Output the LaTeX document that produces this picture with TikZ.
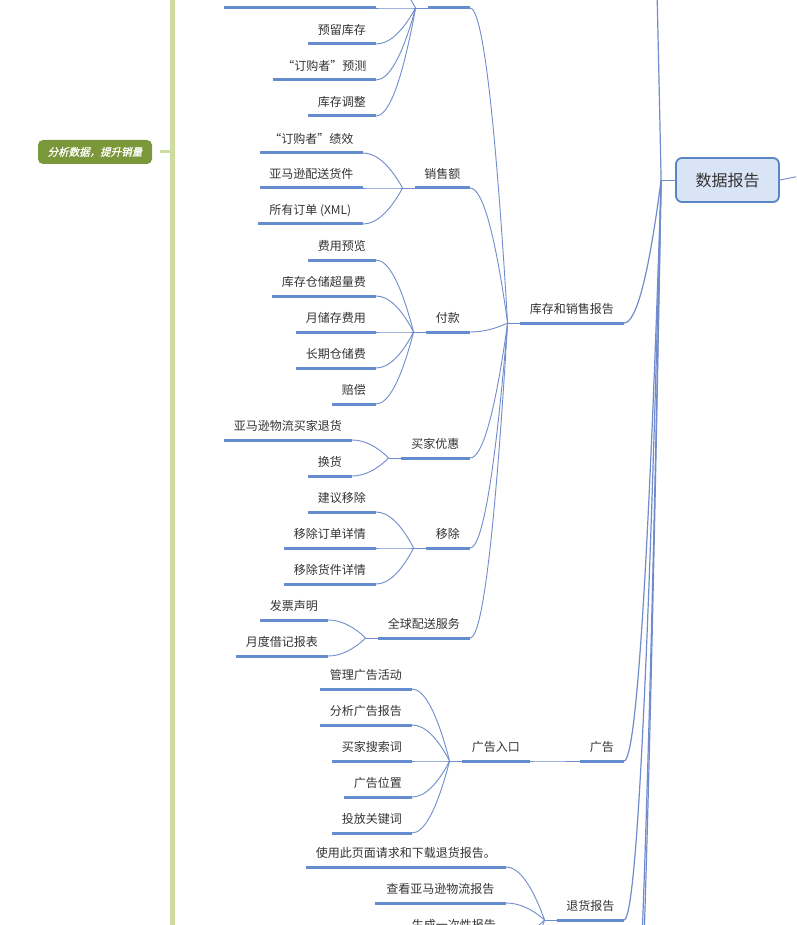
\documentclass[tikz,border=0pt]{standalone}
\usepackage{fontspec}
\setmainfont{Noto Sans CJK SC}
\newfontfamily\greenfont[FakeSlant=0.22,FakeBold=1.2]{Noto Sans CJK SC}
\usetikzlibrary{calc}
\definecolor{ul}{RGB}{100,140,206}
\definecolor{ln}{RGB}{112,140,204}
\definecolor{txt}{RGB}{51,51,51}
\definecolor{gline}{RGB}{206,220,160}
\definecolor{gbox}{RGB}{122,152,58}
\definecolor{dfill}{RGB}{217,229,246}
\definecolor{dborder}{RGB}{91,132,200}
\tikzset{
  topic/.style={anchor=south east, minimum height=27pt, inner sep=0pt, text=txt, font=\fontsize{12}{14}\selectfont},
  uline/.style={draw=ul, line width=3pt},
  link/.style={draw=ln, line width=0.9pt},
  mainlink/.style={draw=ln, line width=1.2pt},
  gnode/.style={fill=gbox, rounded corners=5pt, minimum width=114pt, minimum height=24pt, inner sep=0pt, text=white, font=\greenfont\fontsize{10.5}{12}\selectfont},
  dnode/.style={draw=dborder, line width=1.8pt, fill=dfill, rounded corners=6pt, minimum width=103pt, minimum height=44pt, inner sep=0pt, text=txt, font=\fontsize{16}{18}\selectfont},
}
\newcommand\ulof[1]{\draw[uline] (#1.south west) -- (#1.south east);}
\newcommand\joinof[1]{\coordinate (#1j) at ([xshift=-12pt]#1.south west); \draw[link] (#1j) -- (#1.south west);}
\newcommand\conn[3][link]{\draw[#1] let \p1=(#2), \p2=(#3) in (\p1) .. controls ({\x1+(\x2-\x1)/3},\y1) and ({\x2-(\x2-\x1)/3},{\y2+2*(\y1-\y2)/3}) .. (\p2);}
\newcommand\connall[2]{\foreach \nn in {#1} {\edef\mytmpc{\noexpand\conn{\nn.south east}{#2}}\mytmpc}}
\begin{document}
\begin{tikzpicture}[x=1pt,y=-1pt]
\useasboundingbox (0,0) rectangle (796,925);
\clip (0,0) rectangle (796,925);
\fill[white] (0,0) rectangle (796,925);
% green branch
\coordinate (gtop) at (172.5,-5);
\coordinate (gbot) at (172.5,930);
\draw[gline, line width=5pt] (gtop) -- (gbot);
\node[gnode] (green) at (95,152) {分析数据，提升销量};
\coordinate (gstub) at (172.5,152);
\draw[gline, line width=3pt] ([xshift=8pt]green.east) -- (gstub);
% central node
\node[dnode] (D) at (727.5,180) {数据报告};
\coordinate (Dj) at ([xshift=-14pt]D.west);
\coordinate (Dout) at (800,176);
\draw[link] (Dj) -- (D.west);
\draw[link] (D.east) -- (Dout);
% level 1
\node[topic, minimum width=104pt] (K) at (624,323) {库存和销售报告};
\node[topic, minimum width=44pt] (A) at (624,761) {广告};
\node[topic, minimum width=67pt] (Q) at (624,920) {退货报告};
\coordinate (Dc1) at (624,-724);
\coordinate (Dc2) at (624,1173);
\coordinate (Dc3) at (624,1252);
% level 2 under K
\node[topic, minimum width=42pt] (T) at (470,8) {};
\node[topic, minimum width=55pt] (S) at (470,188) {销售额};
\node[topic, minimum width=44pt] (P) at (470,332) {付款};
\node[topic, minimum width=69pt] (B) at (470,458) {买家优惠};
\node[topic, minimum width=44pt] (R) at (470,548) {移除};
\node[topic, minimum width=92pt] (G) at (470,638) {全球配送服务};
% top group
\coordinate (tup) at (376,-28);
\node[topic, minimum width=152pt] (t0) at (376,8) {};
\node[topic, minimum width=68pt] (t1) at (376,44) {预留库存};
\node[topic, minimum width=103pt] (t2) at (376,80) {“订购者”预测};
\node[topic, minimum width=68pt] (t3) at (376,116) {库存调整};
% sales
\node[topic, minimum width=103pt] (s1) at (363,153) {“订购者”绩效};
\node[topic, minimum width=103pt] (s2) at (363,188) {亚马逊配送货件};
\node[topic, minimum width=105pt] (s3) at (363,224) {所有订单 (XML)};
% payments
\node[topic, minimum width=68pt] (p1) at (376,260) {费用预览};
\node[topic, minimum width=104pt] (p2) at (376,296) {库存仓储超量费};
\node[topic, minimum width=80pt] (p3) at (376,332) {月储存费用};
\node[topic, minimum width=80pt] (p4) at (376,368) {长期仓储费};
\node[topic, minimum width=44pt] (p5) at (376,404) {赔偿};
% buyer
\node[topic, minimum width=128pt] (b1) at (352,440) {亚马逊物流买家退货};
\node[topic, minimum width=44pt] (b2) at (352,476) {换货};
% removal
\node[topic, minimum width=68pt] (r1) at (376,512) {建议移除};
\node[topic, minimum width=92pt] (r2) at (376,548) {移除订单详情};
\node[topic, minimum width=92pt] (r3) at (376,584) {移除货件详情};
% global
\node[topic, minimum width=68pt] (g1) at (328,620) {发票声明};
\node[topic, minimum width=92pt] (g2) at (328,656) {月度借记报表};
% ads
\node[topic, minimum width=68pt] (AI) at (530,761) {广告入口};
\node[topic, minimum width=92pt] (a1) at (412,689) {管理广告活动};
\node[topic, minimum width=92pt] (a2) at (412,725) {分析广告报告};
\node[topic, minimum width=80pt] (a3) at (412,761) {买家搜索词};
\node[topic, minimum width=68pt] (a4) at (412,797) {广告位置};
\node[topic, minimum width=80pt] (a5) at (412,833) {投放关键词};
% returns
\node[topic, minimum width=200pt] (q1) at (506,867) {使用此页面请求和下载退货报告。};
\node[topic, minimum width=131pt] (q2) at (506,903) {查看亚马逊物流报告};
\node[topic, minimum width=104pt] (q3) at (506,939) {生成一次性报告};
\coordinate (q4) at (506,975);
% joins
\joinof{K}\joinof{A}\joinof{Q}\joinof{T}\joinof{S}\joinof{P}\joinof{B}\joinof{R}\joinof{G}\joinof{AI}
% connectors level 1
\conn[mainlink]{Dc1}{Dj}
\conn[mainlink]{K.south east}{Dj}
\conn[mainlink]{A.south east}{Dj}
\conn[mainlink]{Q.south east}{Dj}
\conn[mainlink]{Dc2}{Dj}
\conn[mainlink]{Dc3}{Dj}
% level 2
\connall{T,S,P,B,R,G}{Kj}
\conn{AI.south east}{Aj}
\connall{q1,q2,q3}{Qj}
\conn{q4}{Qj}
% level 3
\conn{tup}{Tj}
\connall{t0,t1,t2,t3}{Tj}
\connall{s1,s2,s3}{Sj}
\connall{p1,p2,p3,p4,p5}{Pj}
\connall{b1,b2}{Bj}
\connall{r1,r2,r3}{Rj}
\connall{g1,g2}{Gj}
\connall{a1,a2,a3,a4,a5}{AIj}
% underlines
\foreach \n in {K,A,Q,T,S,P,B,R,G,AI,t0,t1,t2,t3,s1,s2,s3,p1,p2,p3,p4,p5,b1,b2,r1,r2,r3,g1,g2,a1,a2,a3,a4,a5,q1,q2,q3} {\ulof{\n}}
\end{tikzpicture}
\end{document}
